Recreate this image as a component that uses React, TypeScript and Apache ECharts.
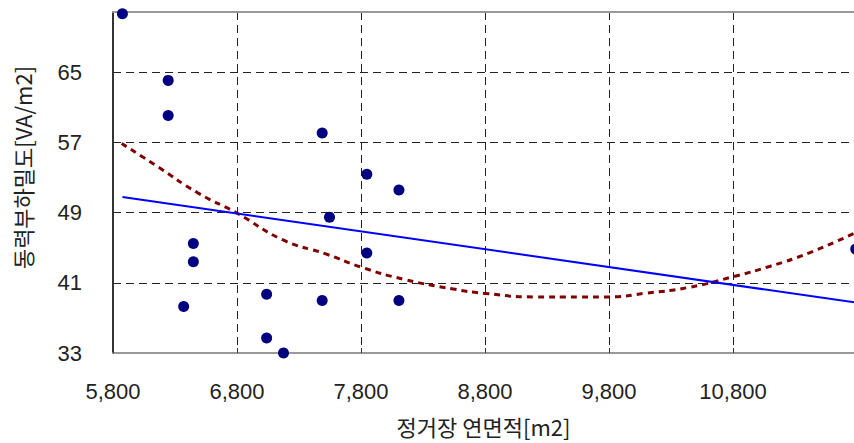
import React, { useEffect, useRef } from "react";
import * as echarts from "echarts";

const xTicks = [5800, 6800, 7800, 8800, 9800, 10800];
const yTicks = [33, 41, 49, 57, 65];

const pointX = [5876, 6245, 6245, 6448, 6448, 6370, 7039, 7039, 7175, 7487, 7546, 7487, 7847, 7847, 8106, 8106, 11790];
const pointY = [71.7, 64.1, 60.1, 45.5, 43.4, 38.3, 39.7, 34.7, 33.0, 58.1, 48.5, 39.0, 53.4, 44.4, 51.6, 39.0, 44.85];

const linearX = [5876, 11790];
const linearY = [50.8, 38.75];

const trendX = [5870, 6167, 6480, 6800, 7170, 7516, 7800, 8147, 8544, 8800, 9197, 9552, 9800, 10085, 10450, 10800, 11101, 11410, 11785];
const trendY = [56.9, 54.2, 51.3, 48.95, 45.9, 44.3, 42.8, 41.4, 40.3, 39.8, 39.4, 39.4, 39.4, 39.8, 40.5, 41.7, 42.9, 44.4, 46.7];

const xTitle = "정거장 연면적[m2]";
const yTitle = "동력부하밀도[VA/m2]";

const numFont = "Liberation Sans, Arial, sans-serif";
const krFont = "Noto Sans CJK KR, sans-serif";

export default function App() {
  const ref = useRef<HTMLDivElement>(null);
  useEffect(() => {
    if (!ref.current) return;
    const chart = echarts.init(ref.current, null, { renderer: "svg" });
    const zip = (xs: number[], ys: number[]) => xs.map((x, i) => [x, ys[i]]);
    chart.setOption({
      animation: false,
      backgroundColor: "#ffffff",
      grid: { left: 113, right: 0, top: 12, bottom: 90, containLabel: false },
      xAxis: [
        {
          type: "value",
          min: 5800,
          max: 11776,
          name: xTitle,
          nameLocation: "middle",
          nameGap: 62,
          nameTextStyle: { fontFamily: krFont, fontSize: 22, color: "#222" },
          axisLine: { show: true, lineStyle: { color: "#999", width: 2 } },
          axisTick: { show: true, inside: true, length: 5, customValues: xTicks, lineStyle: { color: "#333" } },
          axisLabel: {
            customValues: xTicks,
            margin: 27,
            fontFamily: numFont,
            fontSize: 22,
            color: "#222",
            formatter: (v: number) => v.toLocaleString("en-US"),
          },
          splitLine: { show: true, lineStyle: { color: "#222", type: [8, 5], width: 1 } },
        },
        {
          type: "value",
          position: "top",
          min: 5800,
          max: 11776,
          axisLine: { show: true, lineStyle: { color: "#999", width: 2 } },
          axisTick: { show: false },
          axisLabel: { show: false },
          splitLine: { show: false },
        },
      ],
      yAxis: {
        type: "value",
        min: 33,
        max: 71.9,
        name: yTitle,
        nameLocation: "middle",
        nameGap: 80,
        nameRotate: 90,
        nameTextStyle: { fontFamily: krFont, fontSize: 22, color: "#222", padding: [0, 0, 0, 30] },
        axisLine: { show: true, lineStyle: { color: "#333", width: 2 } },
        axisTick: { show: false, customValues: yTicks },
        axisLabel: { customValues: yTicks, margin: 31, fontFamily: numFont, fontSize: 22, color: "#222" },
        splitLine: { show: true, lineStyle: { color: "#222", type: [8, 5], width: 1 } },
      },
      series: [
        {
          type: "line",
          data: zip(trendX, trendY),
          smooth: true,
          showSymbol: false,
          clip: false,
          lineStyle: { color: "#800000", width: 3, type: [6, 5] },
          z: 3,
        },
        {
          type: "line",
          data: zip(linearX, linearY),
          showSymbol: false,
          clip: false,
          lineStyle: { color: "#0000ff", width: 2 },
          z: 4,
        },
        {
          type: "scatter",
          data: zip(pointX, pointY),
          symbolSize: 11,
          clip: false,
          itemStyle: { color: "#000080", opacity: 1 },
          z: 5,
        },
      ],
    });
    return () => chart.dispose();
  }, []);
  return (
    <div
      ref={ref}
      style={{ position: "fixed", left: 0, top: 0, width: 854, height: 443 }}
    />
  );
}
